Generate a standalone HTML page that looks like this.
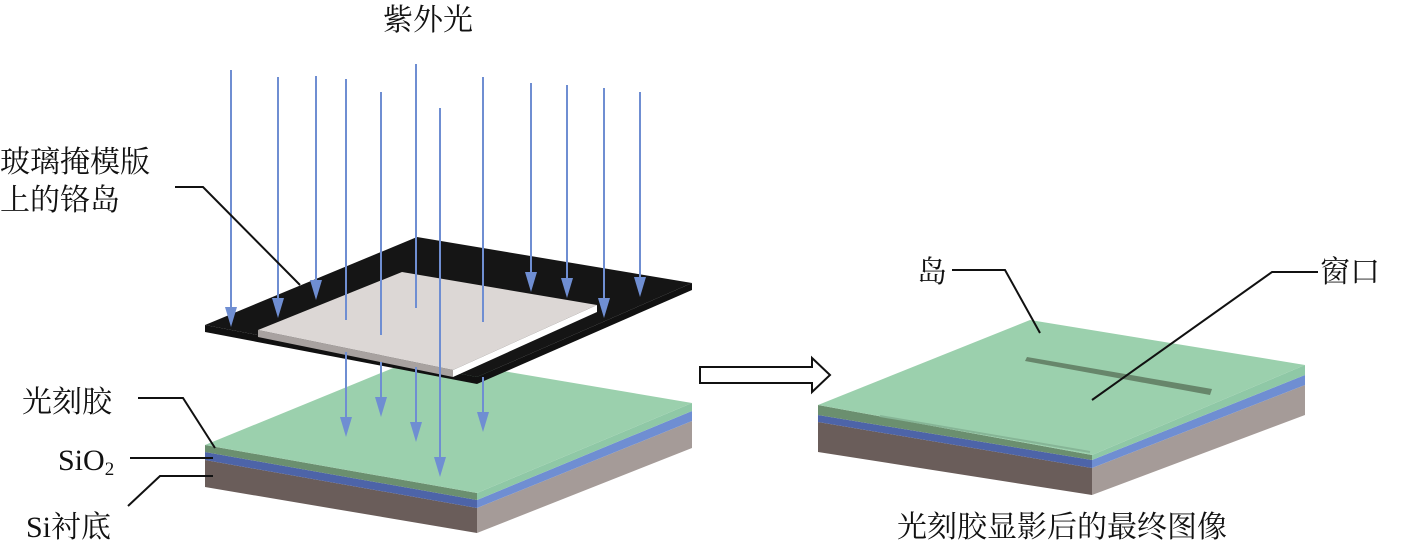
<!DOCTYPE html>
<html><head><meta charset="utf-8"><style>
html,body{margin:0;padding:0;background:#fff;}
svg{display:block;}
text{font-family:"Liberation Serif","Noto Serif CJK SC",serif;font-size:30px;fill:#111;}
</style></head><body>
<svg width="1409" height="546" viewBox="0 0 1409 546" xmlns="http://www.w3.org/2000/svg">
<!-- Left substrate stack -->
<polygon points="205,460 477,508 477,533 205,487" fill="#6a5d5a"/>
<polygon points="477,508 692,421 692,448 477,533" fill="#a59b98"/>
<polygon points="205,452 477,500 477,508 205,460" fill="#4d64a8"/>
<polygon points="477,500 692,411 692,421 477,508" fill="#6f8ed2"/>
<polygon points="205,445 477,493 477,500 205,452" fill="#6b8f6f"/>
<polygon points="477,493 692,403 692,411 477,500" fill="#8fc8a6"/>
<polygon points="205,445 420,357 692,403 477,493" fill="#9bd0ad"/>
<!-- Mask -->
<polygon points="205,325 477,377 477,384 205,332" fill="#111"/>
<polygon points="477,377 692,283 692,290 477,384" fill="#111"/>
<polygon points="205,325 417,237 692,283 477,377" fill="#151515"/>
<!-- chrome island -->
<polygon points="258,330 453,370 453,377 258,337" fill="#a8a2a0"/>
<polygon points="453,370 597,305 597,312 453,377" fill="#fff"/>
<polygon points="258,330 402,272 597,305 453,370" fill="#dcd7d5"/>
<!-- UV arrows -->
<g stroke="#6f8ed2" stroke-width="2" fill="none">
<line x1="231" y1="70" x2="231" y2="310"/>
<line x1="278" y1="77" x2="278" y2="300"/>
<line x1="316" y1="76" x2="316" y2="282"/>
<line x1="346" y1="79" x2="346" y2="320"/>
<line x1="346" y1="352" x2="346" y2="420"/>
<line x1="381" y1="92" x2="381" y2="335"/>
<line x1="381" y1="362" x2="381" y2="400"/>
<line x1="416" y1="64" x2="416" y2="308"/>
<line x1="416" y1="367" x2="416" y2="424"/>
<line x1="440" y1="108" x2="440" y2="460"/>
<line x1="483" y1="77" x2="483" y2="322"/>
<line x1="483" y1="377" x2="483" y2="414"/>
<line x1="531" y1="83" x2="531" y2="274"/>
<line x1="567" y1="85" x2="567" y2="280"/>
<line x1="604" y1="88" x2="604" y2="300"/>
<line x1="640" y1="92" x2="640" y2="279"/>
</g>
<g fill="#6f8ed2">
<polygon points="225,307 237,307 231,327"/>
<polygon points="272,298 284,298 278,318"/>
<polygon points="310,280 322,280 316,300"/>
<polygon points="340,417 352,417 346,437"/>
<polygon points="375,397 387,397 381,417"/>
<polygon points="410,422 422,422 416,442"/>
<polygon points="434,457 446,457 440,477"/>
<polygon points="477,412 489,412 483,432"/>
<polygon points="525,272 537,272 531,292"/>
<polygon points="561,278 573,278 567,298"/>
<polygon points="598,298 610,298 604,318"/>
<polygon points="634,277 646,277 640,297"/>
</g>
<!-- hollow arrow -->
<polygon points="700,367 812,367 812,358 830,375 812,392 812,383 700,383" fill="#fff" stroke="#111" stroke-width="2"/>
<!-- Right stack -->
<polygon points="818,422 1092,468 1092,495 818,452" fill="#6a5d5a"/>
<polygon points="1092,468 1305,385 1305,415 1092,495" fill="#a59b98"/>
<polygon points="818,415 1092,460 1092,468 818,422" fill="#4d64a8"/>
<polygon points="1092,460 1305,375 1305,385 1092,468" fill="#6f8ed2"/>
<polygon points="818,405 1092,455 1092,460 818,415" fill="#6b8f6f"/>
<polygon points="1092,455 1305,365 1305,375 1092,460" fill="#8fc8a6"/>
<polygon points="818,405 1030,320 1305,365 1092,455" fill="#9bd0ad"/>
<polygon points="1025,361 1027,357 1212,389 1210,395" fill="#67866b"/>
<line x1="880" y1="416" x2="1090" y2="452" stroke="#86b596" stroke-width="2"/>
<!-- leader lines -->
<g stroke="#111" stroke-width="2" fill="none">
<polyline points="175,187 203,187 300,285"/>
<polyline points="138,398 183,398 215,448"/>
<polyline points="130,458 213,458"/>
<polyline points="128,506 160,476 213,476"/>
<polyline points="952,270 1005,270 1040,333"/>
<polyline points="1318,272 1272,272 1092,400"/>
</g>
<!-- labels -->
<text x="383" y="30">紫外光</text>
<text x="0" y="172">玻璃掩模版</text>
<text x="0" y="210">上的铬岛</text>
<text x="22" y="412">光刻胶</text>
<text x="58" y="470">SiO<tspan font-size="19" dy="5">2</tspan></text>
<text x="26" y="537">Si衬底</text>
<text x="917" y="282">岛</text>
<text x="1320" y="282">窗口</text>
<text x="897" y="537">光刻胶显影后的最终图像</text>
</svg>
</body></html>
